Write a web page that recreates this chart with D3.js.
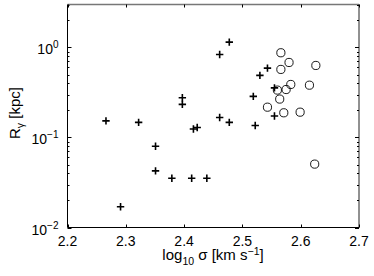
<!DOCTYPE html>
<html>
  <head>
    <meta charset="utf-8">
    <script src="https://d3js.org/d3.v7.min.js"></script>
    <style>
      body { margin: 0; background: white; }
      text { font-family: "Liberation Sans", Arial, sans-serif; fill: #000; }
    </style>
  </head>
  <body>
    <div id="chart"></div>
    <script>
      // plus markers
      var plusSigma = [2.266, 2.322, 2.351, 2.351, 2.379, 2.413, 2.439, 2.291, 2.397, 2.397, 2.416,
                       2.4225, 2.461, 2.4775, 2.461, 2.4775, 2.5187, 2.522, 2.530, 2.543, 2.555, 2.555];
      var plusR = [0.153, 0.147, 0.080, 0.0426, 0.0353, 0.0353, 0.0353, 0.017, 0.276, 0.233, 0.124,
                   0.129, 0.167, 0.147, 0.836, 1.146, 0.286, 0.136, 0.489, 0.589, 0.356, 0.173];
      // circle markers
      var circSigma = [2.566, 2.580, 2.566, 2.626, 2.615, 2.583, 2.560, 2.575, 2.564, 2.543, 2.571, 2.599, 2.624];
      var circR = [0.873, 0.681, 0.570, 0.631, 0.381, 0.388, 0.336, 0.341, 0.267, 0.217, 0.188, 0.191, 0.0506];

      var xTicks = [2.2, 2.3, 2.4, 2.5, 2.6, 2.7];
      var yTickExp = [-2, -1, 0];

      var width = 374, height = 276;
      var margin = { left: 67.5, right: 15, top: 4.5, bottom: 48.5 };

      var svg = d3.select("#chart").append("svg")
        .attr("width", width)
        .attr("height", height);

      var x = d3.scaleLinear().domain([2.2, 2.7]).range([margin.left, width - margin.right]);
      var y = d3.scaleLog().domain([0.01, 3]).range([height - margin.bottom, margin.top]);

      var x0 = x.range()[0], x1 = x.range()[1];
      var y0 = y.range()[0], y1 = y.range()[1];

      // frame
      svg.append("line").attr("x1", x0).attr("x2", x1).attr("y1", y1).attr("y2", y1)
        .attr("stroke", "#777").attr("stroke-width", 1.3);
      svg.append("line").attr("x1", x1).attr("x2", x1).attr("y1", y1).attr("y2", y0)
        .attr("stroke", "#222").attr("stroke-width", 1);
      svg.append("line").attr("x1", x0).attr("x2", x0).attr("y1", y1).attr("y2", y0)
        .attr("stroke", "#000").attr("stroke-width", 1);
      svg.append("line").attr("x1", x0).attr("x2", x1).attr("y1", y0).attr("y2", y0)
        .attr("stroke", "#000").attr("stroke-width", 1);

      // x ticks (inside, bottom and top)
      xTicks.forEach(function(t) {
        var px = Math.round(x(t)) + 0.5;
        svg.append("line").attr("x1", px).attr("x2", px).attr("y1", y0).attr("y2", y0 - 3).attr("stroke", "#000");
        svg.append("line").attr("x1", px).attr("x2", px).attr("y1", y1).attr("y2", y1 + 3).attr("stroke", "#000");
        svg.append("text")
          .attr("x", x(t)).attr("y", y0 + 18)
          .attr("text-anchor", "middle")
          .attr("font-size", 14)
          .text(d3.format(".1f")(t));
      });

      // y ticks, major and minor
      var minor = [];
      for (var e = -2; e <= 0; e++) {
        for (var m = 2; m <= 9; m++) {
          var v = m * Math.pow(10, e);
          if (v <= 3) minor.push(v);
        }
      }
      minor.forEach(function(v) {
        var py = Math.round(y(v)) + 0.5;
        svg.append("line").attr("x1", x0).attr("x2", x0 + 2).attr("y1", py).attr("y2", py).attr("stroke", "#000");
        svg.append("line").attr("x1", x1).attr("x2", x1 - 2).attr("y1", py).attr("y2", py).attr("stroke", "#000");
      });
      yTickExp.forEach(function(e) {
        var py = Math.round(y(Math.pow(10, e))) + 0.5;
        svg.append("line").attr("x1", x0).attr("x2", x0 + 4).attr("y1", py).attr("y2", py).attr("stroke", "#000");
        svg.append("line").attr("x1", x1).attr("x2", x1 - 4).attr("y1", py).attr("y2", py).attr("stroke", "#000");
        var t = svg.append("text")
          .attr("x", x0 - 9).attr("y", y(Math.pow(10, e)) + 7)
          .attr("text-anchor", "end")
          .attr("font-size", 14);
        t.append("tspan").text("10");
        t.append("tspan").attr("dy", -6).attr("font-size", 10).text(String(e).replace("-", "\u2212"));
      });

      // axis labels
      var xl = svg.append("text")
        .attr("x", 213).attr("y", 260)
        .attr("text-anchor", "middle")
        .attr("font-size", 15);
      xl.append("tspan").text("log");
      xl.append("tspan").attr("dy", 5).attr("font-size", 10.5).text("10");
      xl.append("tspan").attr("dy", -5).text(" \u03c3 [km s");
      xl.append("tspan").attr("dy", -5).attr("font-size", 10.5).text("\u22121");
      xl.append("tspan").attr("dy", 5).text("]");

      var yl = svg.append("text")
        .attr("transform", "translate(20,113) rotate(-90)")
        .attr("text-anchor", "middle")
        .attr("font-size", 15);
      yl.append("tspan").text("R");
      yl.append("tspan").attr("dy", 4).attr("font-size", 10.5).text("\u03b3");
      yl.append("tspan").attr("dy", -4).text(" [kpc]");

      // plus markers
      var plusData = plusSigma.map(function(s, i) { return { s: s, r: plusR[i] }; });
      svg.selectAll("path.plus")
        .data(plusData)
        .enter()
        .append("path")
        .attr("class", "plus")
        .attr("d", function(d) {
          var cx = x(d.s), cy = y(d.r), h = 3.7;
          return "M" + (cx - h) + "," + cy + "H" + (cx + h) + "M" + cx + "," + (cy - h) + "V" + (cy + h);
        })
        .attr("stroke", "#000")
        .attr("stroke-width", 1.6)
        .attr("fill", "none");

      // circle markers
      var circData = circSigma.map(function(s, i) { return { s: s, r: circR[i] }; });
      svg.selectAll("circle")
        .data(circData)
        .enter()
        .append("circle")
        .attr("cx", function(d) { return x(d.s); })
        .attr("cy", function(d) { return y(d.r); })
        .attr("r", 4.1)
        .attr("fill", "none")
        .attr("stroke", "#000")
        .attr("stroke-width", 0.9);
    </script>
  </body>
</html>
